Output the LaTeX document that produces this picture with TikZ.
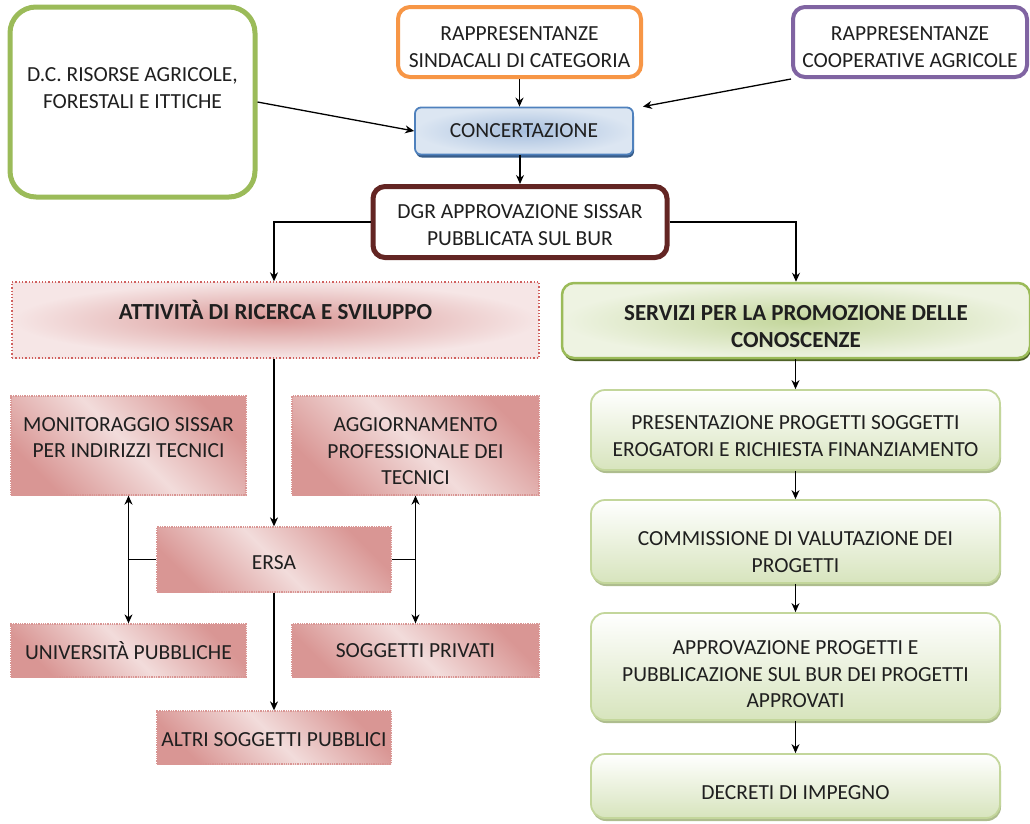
\documentclass[tikz,border=0pt]{standalone}
\usepackage{fontspec}
\setmainfont{Carlito}
\usetikzlibrary{arrows.meta, shadows}

\definecolor{verdeol}{HTML}{9BBB59}
\definecolor{arancio}{HTML}{F79646}
\definecolor{viola}{HTML}{8064A2}
\definecolor{bordeaux}{HTML}{632523}
\definecolor{blu}{HTML}{4F81BD}
\definecolor{bluscuro}{HTML}{385D8A}
\definecolor{bluchiaro}{HTML}{DCE6F2}
\definecolor{blumedio}{HTML}{A7BFDE}
\definecolor{rosso}{HTML}{D0605E}
\definecolor{rosa}{HTML}{D99694}
\definecolor{rosachiaro}{HTML}{F2DCDB}
\definecolor{rosatenue}{HTML}{F6E6E6}
\definecolor{verdechiaro}{HTML}{D7E4BD}
\definecolor{verdetenue}{HTML}{C3D69B}
\definecolor{verdepallido}{HTML}{EEF3E2}
\definecolor{verdescuro}{HTML}{4F6228}
\definecolor{ombra}{HTML}{AEBD8E}

% spostano il testo nel riquadro
\newcommand{\abbassa}[1]{\rule{0pt}{#1pt}}
\newcommand{\alza}[1]{\rule[-#1pt]{0pt}{#1pt}}

\begin{document}
\begin{tikzpicture}[x=1pt, y=-1pt,
  every node/.style={font=\fontsize{21.5}{26.5}\selectfont, align=center, text=black!88, inner sep=0pt},
  titolo/.style={font=\fontsize{23}{27}\selectfont\bfseries},
  arr/.style={-{Stealth[length=9pt,width=8pt]}, line width=1.3pt},
  topbox/.style={draw, line width=4pt, rounded corners=12pt, fill=white},
  pinkbox/.style={draw=rosa, densely dotted, line width=1.3pt, left color=rosa, right color=rosa, middle color=rosachiaro, shading angle=135},
  stepbox/.style={draw=verdetenue, line width=1.8pt, rounded corners=14pt, top color=white, bottom color=verdechiaro,
    drop shadow={shadow xshift=1pt, shadow yshift=-3pt, fill=ombra, opacity=1}, minimum width=409},
  ]
  \useasboundingbox (0,0) rectangle (1030,823);

  % livello superiore
  \node[topbox, draw=verdeol, line width=5pt, rounded corners=26pt, minimum width=245, minimum height=190] (dc) at (132.5,102) {};
  \node (dctxt) at (132.5,88) {D.C. RISORSE AGRICOLE,\\FORESTALI E ITTICHE};
  \node[topbox, draw=arancio, minimum width=243, minimum height=70] (sind) at (519.5,42) {\abbassa{24}RAPPRESENTANZE\\SINDACALI DI CATEGORIA};
  \node[topbox, draw=viola, minimum width=234, minimum height=70] (coop) at (910,42) {\abbassa{24}RAPPRESENTANZE\\COOPERATIVE AGRICOLE};
  \node[draw=blu, line width=1.8pt, rounded corners=6pt, inner color=blumedio, outer color=bluchiaro,
    drop shadow={shadow xshift=1pt, shadow yshift=-3pt, fill=bluscuro, opacity=1},
    minimum width=218, minimum height=47] (conc) at (524,131) {CONCERTAZIONE};
  \node[topbox, draw=bordeaux, line width=5pt, minimum width=294, minimum height=71] (dgr) at (520,222) {\abbassa{20}DGR APPROVAZIONE SISSAR\\PUBBLICATA SUL BUR};

  \draw[arr] (sind.south) -- (sind.south |- conc.north);
  \draw[arr] (dc.east) -- (conc.west);
  \draw[arr] (coop.south west) -- ([xshift=9pt]conc.north east);
  \draw[arr] (dgr.north |- conc.south) -- (dgr.north);

  % ramo ricerca e sviluppo
  \node[draw=rosso, dotted, line width=1.3pt, inner color=rosa, outer color=rosatenue, minimum width=527, minimum height=76] (att) at (275.5,320) {};
  \node[titolo] (atttxt) at (275.5,310) {ATTIVITÀ DI RICERCA E SVILUPPO};
  \node[pinkbox, minimum width=235, minimum height=99] (mon) at (128.5,445.5) {MONITORAGGIO SISSAR\\PER INDIRIZZI TECNICI\alza{16}};
  \node[pinkbox, minimum width=247, minimum height=99] (agg) at (415.5,445.5) {\abbassa{26}AGGIORNAMENTO\\PROFESSIONALE DEI\\TECNICI};
  \node[pinkbox, minimum width=234, minimum height=65] (ersa) at (274,559.5) {\abbassa{20}ERSA};
  \node[pinkbox, minimum width=235, minimum height=53] (univ) at (128.5,650.5) {UNIVERSITÀ PUBBLICHE};
  \node[pinkbox, minimum width=247, minimum height=53] (priv) at (415.5,650.5) {\abbassa{15}SOGGETTI PRIVATI};
  \node[pinkbox, minimum width=234, minimum height=53] (altri) at (274,737.5) {\abbassa{18}ALTRI SOGGETTI PUBBLICI};

  \draw[arr] (dgr.west) -| (ersa.north |- att.north);
  \draw[arr] (ersa.north |- att.south) -- (ersa.north);
  \draw[arr] (ersa.west) -| (mon.south);
  \draw[arr] (ersa.west) -| (univ.north);
  \draw[arr] (ersa.east) -| (agg.south);
  \draw[arr] (ersa.east) -| (priv.north);
  \draw[arr] (ersa.south) -- (altri.north);

  % ramo promozione delle conoscenze
  \node[titolo, draw=verdeol, line width=2.5pt, rounded corners=12pt, inner color=verdetenue, outer color=verdepallido,
    drop shadow={shadow xshift=1pt, shadow yshift=-3pt, fill=verdescuro, opacity=1},
    minimum width=468, minimum height=75] (serv) at (796,320.5) {\abbassa{27}SERVIZI PER LA PROMOZIONE DELLE\\CONOSCENZE};
  \node[stepbox, minimum height=80] (pres) at (795.5,430) {\abbassa{26}PRESENTAZIONE PROGETTI SOGGETTI\\EROGATORI E RICHIESTA FINANZIAMENTO};
  \node[stepbox, minimum height=83] (comm) at (795.5,541.5) {\abbassa{35}COMMISSIONE DI VALUTAZIONE DEI\\PROGETTI};
  \node[stepbox, minimum height=107] (appr) at (795.5,666.5) {\abbassa{30}APPROVAZIONE PROGETTI E\\PUBBLICAZIONE SUL BUR DEI PROGETTI\\APPROVATI};
  \node[stepbox, minimum height=64] (decr) at (795.5,786) {\abbassa{28}DECRETI DI IMPEGNO};

  \draw[arr] (dgr.east) -| (serv.north);
  \draw[arr] (pres.north |- serv.south) -- (pres.north);
  \draw[arr] (pres.south) -- (comm.north);
  \draw[arr] (comm.south) -- (appr.north);
  \draw[arr] (appr.south) -- (decr.north);
\end{tikzpicture}
\end{document}
